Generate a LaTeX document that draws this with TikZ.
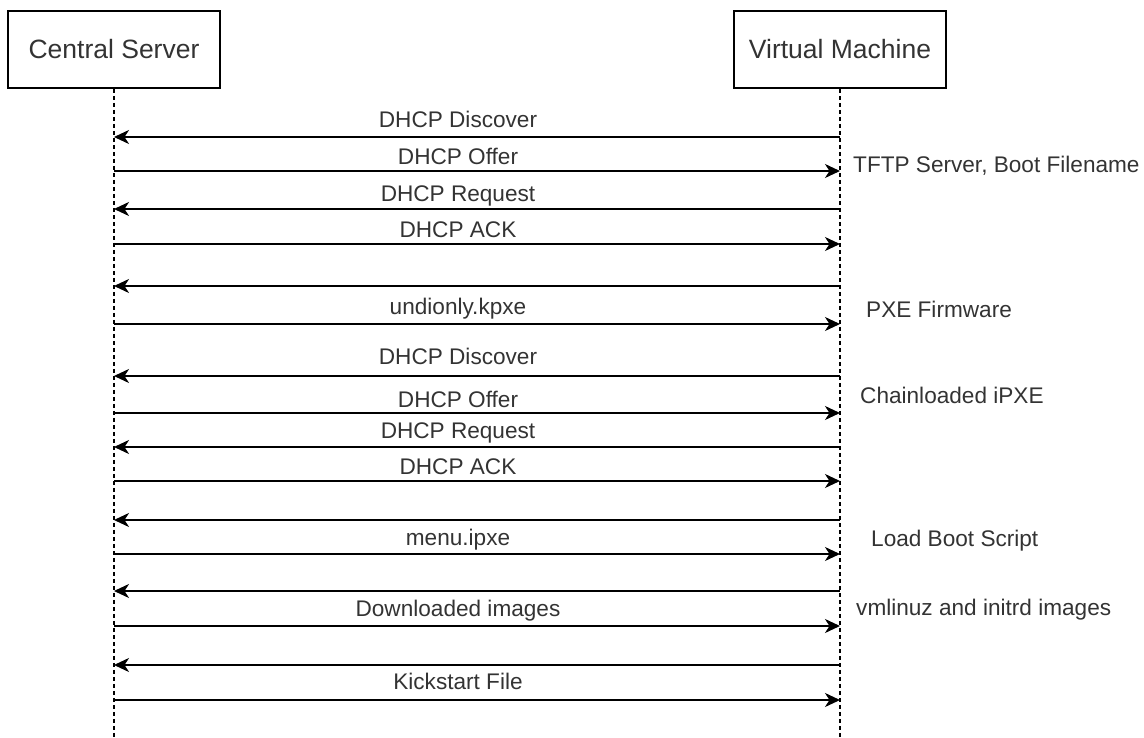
\documentclass[tikz,border=0pt]{standalone}
\usepackage{fontspec}
\setmainfont{Liberation Sans}
\usetikzlibrary{arrows.meta, positioning}
\definecolor{txtgray}{HTML}{333333}

\begin{document}
\begin{tikzpicture}[x=1pt, y=1pt,
    actor/.style={draw, line width=1.8pt, minimum width=212pt, minimum height=77pt,
        font=\fontsize{26.5}{30}\selectfont, text=txtgray},
    lifeline/.style={line width=1.3pt, dash pattern=on 4pt off 3pt},
    msg/.style={line width=1.9pt, -{Stealth[length=15pt, width=14pt, inset=4.5pt]}},
    lbl/.style={font=\fontsize{22.6}{26}\selectfont, text=txtgray, anchor=base, inner sep=0pt},
    note/.style={font=\fontsize{22.6}{26}\selectfont, text=txtgray, anchor=base west, inner sep=0pt},
  ]
  \useasboundingbox (0,0) rectangle (1144,-738);

  % participants
  \node[actor] (cs) at (114,-49.5) {Central Server};
  \node[actor] (vm) at (840,-49.5) {Virtual Machine};

  % lifelines
  \coordinate (csend) at (cs.south |- 0,-738);
  \coordinate (vmend) at (vm.south |- 0,-738);
  \draw[lifeline] (cs) -- (csend);
  \draw[lifeline] (vm) -- (vmend);

  % messages with a label
  \foreach \i/\y/\ly/\src/\dst/\txt in {
      1/137/128/vm/cs/DHCP Discover,
      2/171/165/cs/vm/DHCP Offer,
      3/209/202/vm/cs/DHCP Request,
      4/244/238/cs/vm/DHCP ACK,
      6/324/315/cs/vm/undionly.kpxe,
      7/376/364/vm/cs/DHCP Discover,
      8/413/407/cs/vm/DHCP Offer,
      9/447/438/vm/cs/DHCP Request,
      10/481/474/cs/vm/DHCP ACK,
      12/554/545/cs/vm/menu.ipxe,
      14/626/616/cs/vm/Downloaded images,
      16/700/689/cs/vm/Kickstart File}{
    \coordinate (cs\i) at (cs.south |- 0,-\y);
    \coordinate (vm\i) at (vm.south |- 0,-\y);
    \draw[msg] (\src\i) -- (\dst\i);
    \node[lbl] (lbl\i) at (458,-\ly) {\txt};
  }

  % requests without a label
  \foreach \i/\y in {5/286, 11/520, 13/591, 15/665}{
    \coordinate (cs\i) at (cs.south |- 0,-\y);
    \coordinate (vm\i) at (vm.south |- 0,-\y);
    \draw[msg] (vm\i) -- (cs\i);
  }

  % notes on the right
  \node[note] (tftp) at (853,-173) {TFTP Server, Boot Filename};
  \node[note] (pxe) at (866,-317) {PXE Firmware};
  \node[note] (chain) at (860,-403) {Chainloaded iPXE};
  \node[note] (boot) at (871,-546) {Load Boot Script};
  \node[note] (kern) at (856,-615) {vmlinuz and initrd images};
\end{tikzpicture}
\end{document}
